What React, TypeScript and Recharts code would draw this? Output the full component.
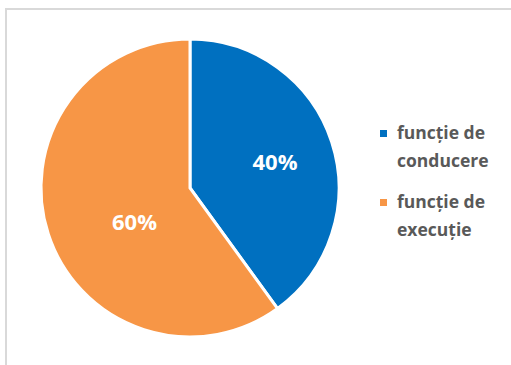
import { PieChart, Pie, Cell } from 'recharts'

const categories = ['funcție de conducere', 'funcție de execuție']
const legendLines = [['funcție de', 'conducere'], ['funcție de', 'execuție']]
const values = [40, 60]
const COLORS = ['#0070C0', '#F79646']

const data = categories.map((name, i) => ({ name, value: values[i] }))

const RADIAN = Math.PI / 180

// Excel-ish placement of the percent labels inside the slices
const renderLabel = (props: any) => {
  const { cx, cy, midAngle, outerRadius, index, value } = props
  const factor = index === 0 ? 0.6 : 0.43
  const angle = index === 0 ? midAngle : midAngle + 12
  const r = outerRadius * factor
  const x = cx + r * Math.cos(-angle * RADIAN)
  const y = cy + r * Math.sin(-angle * RADIAN)
  return (
    <text
      x={x}
      y={y + 1}
      fill="#ffffff"
      textAnchor="middle"
      dominantBaseline="central"
      fontFamily="'Open Sans', sans-serif"
      fontWeight="bold"
      fontSize={22}
    >
      {`${value}%`}
    </text>
  )
}

export default function App() {
  return (
    <div style={{ position: 'absolute', left: 0, top: 0, width: 511, height: 365, background: '#fff', overflow: 'hidden' }}>
      <div
        style={{
          position: 'absolute',
          left: 5,
          top: 8,
          width: 540,
          height: 400,
          border: '2px solid #d9d9d9',
          boxSizing: 'border-box'
        }}
      />
      <div style={{ position: 'absolute', left: 0, top: 0 }}>
        <PieChart width={511} height={365} margin={{ top: 0, right: 0, bottom: 0, left: 0 }}>
          <Pie
            data={data}
            dataKey="value"
            cx={190}
            cy={188}
            outerRadius={149}
            startAngle={90}
            endAngle={-270}
            stroke="#ffffff"
            strokeWidth={3}
            label={renderLabel}
            labelLine={false}
            isAnimationActive={false}
          >
            {data.map((entry, index) => (
              <Cell key={`cell-${index}`} fill={COLORS[index]} />
            ))}
          </Pie>
        </PieChart>
      </div>
      <div
        style={{
          position: 'absolute',
          left: 380,
          top: 118,
          fontFamily: "'Open Sans', sans-serif",
          fontWeight: 'bold',
          fontSize: 17.5,
          color: '#595959',
          lineHeight: '28px'
        }}
      >
        {legendLines.map((lines, i) => (
          <div key={i} style={{ display: 'flex', marginBottom: i === 0 ? 13 : 0 }}>
            <div style={{ width: 7, height: 7, background: COLORS[i], marginTop: 12, marginRight: 10 }} />
            <div>
              {lines.map((l, j) => (
                <div key={j}>{l}</div>
              ))}
            </div>
          </div>
        ))}
      </div>
    </div>
  )
}
